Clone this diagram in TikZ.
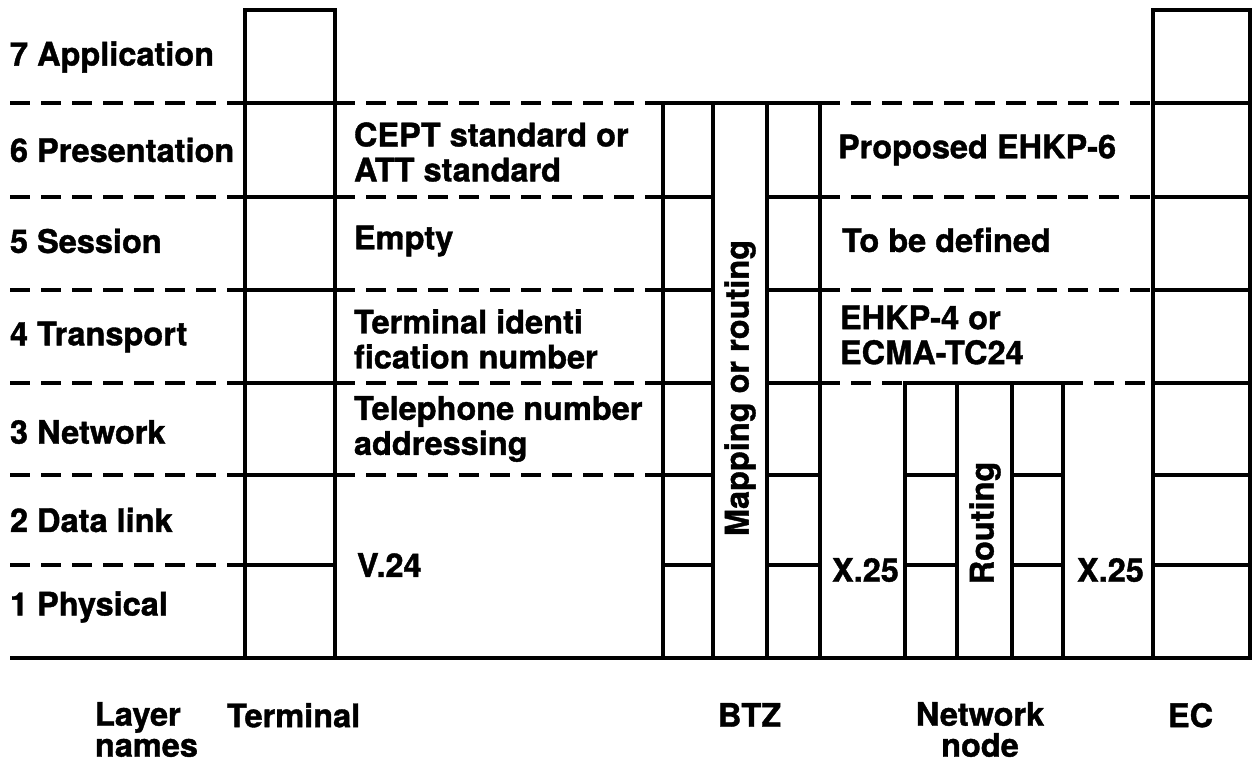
\documentclass[tikz,border=0pt]{standalone}
\usepackage{fontspec}
\setmainfont{TeX Gyre Heros}[BoldFeatures={FakeBold=1.2}]
\begin{document}
\begin{tikzpicture}[x=1pt,y=-1pt,line width=4pt,
  txt/.style={font=\fontsize{32.5}{35}\selectfont\bfseries,inner sep=0pt},
  btxt/.style={font=\fontsize{32.5}{31}\selectfont\bfseries,inner sep=0pt},
  dline/.style={line width=4pt,dash pattern=on 20pt off 11pt},
  lbl/.style={txt,align=left,anchor=west},
  blbl/.style={btxt,align=left,anchor=north west},
  vlbl/.style={txt,rotate=90}]
\useasboundingbox (0,0) rectangle (1256,765);
% dashed layer separators
\foreach \y in {103,197,290,383,475,565} \draw[dline] (10,\y) -- (245,\y);
\foreach \y in {103,197,290,383,475} \draw[dline] (335,\y) -- (663,\y);
\foreach \y in {103,197,290} \draw[dline] (820,\y) -- (1153,\y);
\draw[dline] (820,383) -- (905,383);
\draw[dline] (1063,383) -- (1153,383);
% baseline
\draw (10,658) -- (1250,658);
% terminal
\draw (245,10) rectangle (335,658);
\foreach \y in {103,197,290,383,475,565} \draw (245,\y) -- (335,\y);
% EC
\draw (1153,10) rectangle (1250,658);
\foreach \y in {103,197,290,383,475,565} \draw (1153,\y) -- (1250,\y);
% BTZ
\draw (663,103) rectangle (820,658);
\draw (713,103) -- (713,658);
\draw (767,103) -- (767,658);
\foreach \y in {197,290,383,475,565} {\draw (663,\y) -- (713,\y); \draw (767,\y) -- (820,\y);}
% network node
\draw (905,383) rectangle (1063,658);
\draw (957,383) -- (957,658);
\draw (1012,383) -- (1012,658);
\foreach \y in {475,565} {\draw (905,\y) -- (957,\y); \draw (1012,\y) -- (1063,\y);}
% layer names
\node[lbl] (l7) at (8,57) {7 Application};
\node[lbl] (l6) at (8,150) {6 Presentation};
\node[lbl] (l5) at (8,241) {5 Session};
\node[lbl] (l4) at (8,337) {4 Transport};
\node[lbl] (l3) at (8,432) {3 Network};
\node[lbl] (l2) at (8,520) {2 Data link};
\node[lbl] (l1) at (8,607) {1 Physical};
% terminal side texts
\node[lbl] (t6) at (352,152) {CEPT standard or\\ATT standard};
\node[lbl] (t5) at (352,241) {Empty};
\node[lbl] (t4) at (352,339) {Terminal identi\\fication number};
\node[lbl] (t3) at (352,429) {Telephone number\\addressing};
\node[lbl] (t1) at (355,565) {V.24};
% EC side texts
\node[lbl] (e6) at (836,150) {Proposed EHKP-6};
\node[lbl] (e5) at (840,240) {To be defined};
\node[lbl] (e4) at (838,335) {EHKP-4 or\\ECMA-TC24};
\node[lbl] (x1) at (830,570) {X.25};
\node[lbl] (x2) at (1075,570) {X.25};
% rotated
\node[vlbl] (map) at (740,388) {Mapping or routing};
\node[vlbl] (rout) at (985,523) {Routing};
% bottom labels
\node[blbl] (bl) at (93,700) {Layer\\names};
\node[blbl] (bt) at (225,701) {Terminal};
\node[blbl] (bb) at (716,701) {BTZ};
\node[btxt,align=center,anchor=north] (bn) at (980,700) {Network\\node};
\node[blbl] (be) at (1166,701) {EC};
\end{tikzpicture}
\end{document}
